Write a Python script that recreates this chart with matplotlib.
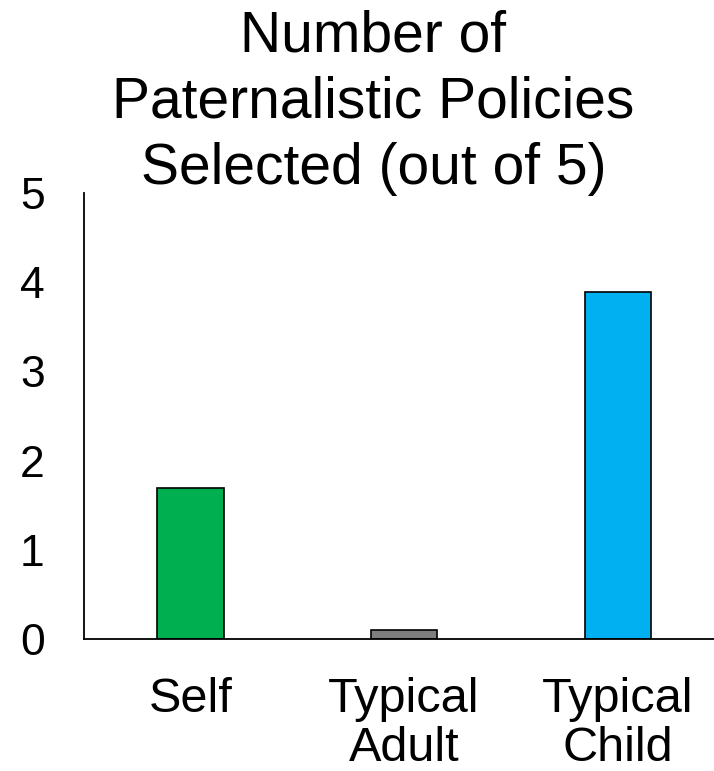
import matplotlib.pyplot as plt

plt.rcParams['font.family'] = ['Liberation Sans', 'DejaVu Sans']

# Mean number of policies chosen for each target
categories = ['Self', 'Typical\nAdult', 'Typical\nChild']
values = [1.69, 0.10, 3.89]
bar_colors = ['#00B050', '#7F7F7F', '#00B0F0']
y_ticks = [0, 1, 2, 3, 4, 5]

fig = plt.figure(figsize=(7.14, 7.71), dpi=100)
ax = fig.add_axes([0.117, 0.171, 0.898, 0.579])

x = range(len(categories))
ax.bar(x, values, width=0.31, color=bar_colors, edgecolor='black', linewidth=1.2)

ax.set_xlim(-0.5, 2.5)
ax.set_ylim(0, 5)
ax.set_yticks(y_ticks)
ax.set_xticks(list(x))
ax.set_xticklabels(categories, fontsize=35, linespacing=1.13)
ax.tick_params(axis='y', length=0, labelsize=32, pad=28)
ax.tick_params(axis='x', length=0, pad=27)

ax.spines['top'].set_visible(False)
ax.spines['right'].set_visible(False)
for s in ('left', 'bottom'):
    ax.spines[s].set_linewidth(1.3)

fig.text(0.523, 0.988, 'Number of\nPaternalistic Policies\nSelected (out of 5)',
         ha='center', va='top', fontsize=41, linespacing=1.29)

plt.savefig('out.png', dpi=100)
